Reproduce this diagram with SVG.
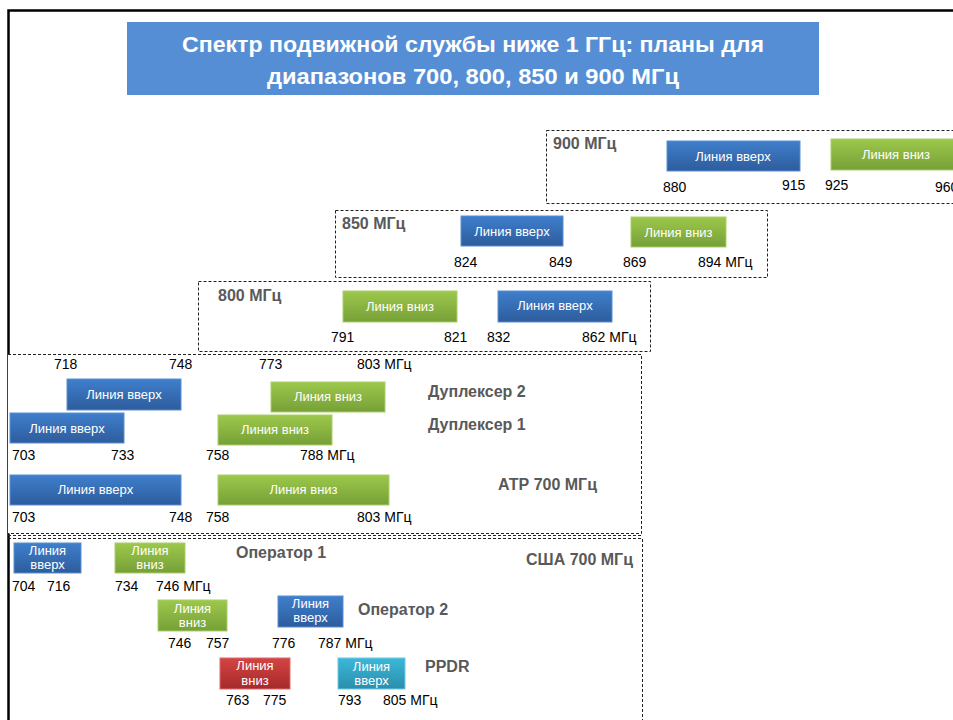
<svg xmlns="http://www.w3.org/2000/svg" width="953" height="720" viewBox="0 0 953 720">
<defs>
<linearGradient id="gb" x1="0" y1="0" x2="0" y2="1"><stop offset="0" stop-color="#3f7fcc"/><stop offset="1" stop-color="#2d5c9c"/></linearGradient>
<linearGradient id="gg" x1="0" y1="0" x2="0" y2="1"><stop offset="0" stop-color="#9dc84c"/><stop offset="1" stop-color="#76a036"/></linearGradient>
<linearGradient id="gr" x1="0" y1="0" x2="0" y2="1"><stop offset="0" stop-color="#d44444"/><stop offset="1" stop-color="#a52a2a"/></linearGradient>
<linearGradient id="gc" x1="0" y1="0" x2="0" y2="1"><stop offset="0" stop-color="#3cb8d9"/><stop offset="1" stop-color="#2a8eab"/></linearGradient>
<style>
text{font-family:"Liberation Sans",Arial,sans-serif}
.num{font-size:14px;fill:#000}
.grp{font-size:16px;font-weight:bold;fill:#595959}
.lbl{font-size:13px;fill:#fff;text-anchor:middle}
.b{fill:url(#gb);stroke:#5b8fd0;stroke-width:1}
.g{fill:url(#gg);stroke:#a9cf6a;stroke-width:1}
.r{fill:url(#gr);stroke:#e06a6a;stroke-width:1}
.c{fill:url(#gc);stroke:#6ccbe4;stroke-width:1}
.dash{fill:#fff;stroke:#222;stroke-width:1;stroke-dasharray:3,2}
.title{font-size:22px;font-weight:bold;fill:#fff;text-anchor:middle}
</style>
</defs>
<rect x="0" y="0" width="953" height="720" fill="#fff"/>
<g id="frame"><path d="M8.5,720 V10.5 H953" fill="none" stroke="#000" stroke-width="2.5"/></g>
<g id="title">
<rect x="127" y="22" width="692" height="73" fill="#558ed5"/>
<text class="title" x="473" y="52" textLength="582" lengthAdjust="spacingAndGlyphs">Спектр подвижной службы ниже 1 ГГц: планы для</text>
<text class="title" x="473" y="84" textLength="412" lengthAdjust="spacingAndGlyphs">диапазонов 700, 800, 850 и 900 МГц</text>
</g>
<g id="band900">
<rect class="dash" x="546.5" y="130.5" width="420" height="73"/>
<text class="grp" x="553" y="149">900 МГц</text>
<rect class="b" x="667" y="141" width="133" height="30"/><text class="lbl" x="733" y="161">Линия вверх</text>
<rect class="g" x="831" y="139" width="130" height="31"/><text class="lbl" x="896" y="159">Линия вниз</text>
<text class="num" x="663" y="192">880</text><text class="num" x="782" y="190">915</text><text class="num" x="825" y="190">925</text><text class="num" x="935" y="192">960</text>
</g>
<g id="band850">
<rect class="dash" x="335.5" y="210.5" width="432" height="67"/>
<text class="grp" x="342" y="229">850 МГц</text>
<rect class="b" x="461" y="216" width="102" height="30"/><text class="lbl" x="512" y="236">Линия вверх</text>
<rect class="g" x="631" y="217" width="95" height="30"/><text class="lbl" x="678.5" y="237">Линия вниз</text>
<text class="num" x="454" y="267">824</text><text class="num" x="549" y="267">849</text><text class="num" x="623" y="267">869</text><text class="num" x="698" y="267">894 МГц</text>
</g>
<g id="band800">
<rect class="dash" x="198.5" y="281.5" width="452" height="70"/>
<text class="grp" x="218" y="301">800 МГц</text>
<rect class="g" x="343" y="291" width="114" height="31"/><text class="lbl" x="400" y="311">Линия вниз</text>
<rect class="b" x="498" y="291" width="114" height="31"/><text class="lbl" x="555" y="310">Линия вверх</text>
<text class="num" x="331" y="342">791</text><text class="num" x="444" y="342">821</text><text class="num" x="487" y="342">832</text><text class="num" x="582" y="342">862 МГц</text>
</g>
<g id="apt700">
<path class="dash" d="M8,354.5 H641.5 V533.5 H8" fill="none"/>
<text class="num" x="54" y="369">718</text><text class="num" x="169" y="369">748</text><text class="num" x="259" y="369">773</text><text class="num" x="357" y="369">803 МГц</text>
<rect class="b" x="67" y="379" width="114" height="31"/><text class="lbl" x="124" y="399">Линия вверх</text>
<rect class="g" x="271" y="382" width="114" height="30"/><text class="lbl" x="328" y="401">Линия вниз</text>
<text class="grp" x="428" y="397">Дуплексер 2</text>
<rect class="b" x="10" y="413" width="114" height="30"/><text class="lbl" x="67" y="433">Линия вверх</text>
<rect class="g" x="218" y="415" width="114" height="30"/><text class="lbl" x="275" y="434">Линия вниз</text>
<text class="grp" x="428" y="430">Дуплексер 1</text>
<text class="num" x="12" y="460">703</text><text class="num" x="111" y="460">733</text><text class="num" x="206" y="460">758</text><text class="num" x="300" y="460">788 МГц</text>
<rect class="b" x="10" y="475" width="171" height="30"/><text class="lbl" x="95.5" y="494">Линия вверх</text>
<rect class="g" x="218" y="475" width="171" height="30"/><text class="lbl" x="303.5" y="494">Линия вниз</text>
<text class="grp" x="498" y="490">АТР 700 МГц</text>
<text class="num" x="12" y="522">703</text><text class="num" x="169" y="522">748</text><text class="num" x="206" y="522">758</text><text class="num" x="357" y="522">803 МГц</text>
</g>
<g id="usa700">
<path class="dash" d="M8,535.5 H642.5 M8,538.5 H642.5 V720" fill="none"/>
<text class="grp" x="526" y="565">США 700 МГц</text>
<rect class="b" x="14" y="543" width="67" height="30"/><text class="lbl" x="47.5" y="555">Линия</text><text class="lbl" x="47.5" y="569">вверх</text>
<rect class="g" x="115" y="543" width="70" height="30"/><text class="lbl" x="150" y="555">Линия</text><text class="lbl" x="150" y="569">вниз</text>
<text class="grp" x="236" y="558">Оператор 1</text>
<text class="num" x="12" y="591">704</text><text class="num" x="47" y="591">716</text><text class="num" x="115" y="591">734</text><text class="num" x="156" y="591">746 МГц</text>
<rect class="g" x="158" y="600" width="69" height="31"/><text class="lbl" x="192.5" y="613">Линия</text><text class="lbl" x="192.5" y="627">вниз</text>
<rect class="b" x="278" y="596" width="65" height="31"/><text class="lbl" x="310.5" y="608">Линия</text><text class="lbl" x="310.5" y="622">вверх</text>
<text class="grp" x="358" y="615">Оператор 2</text>
<text class="num" x="168" y="648">746</text><text class="num" x="206" y="648">757</text><text class="num" x="272" y="648">776</text><text class="num" x="318" y="648">787 МГц</text>
<rect class="r" x="220" y="658" width="70" height="31"/><text class="lbl" x="255" y="670">Линия</text><text class="lbl" x="255" y="685">вниз</text>
<rect class="c" x="338" y="658" width="67" height="31"/><text class="lbl" x="371.5" y="671">Линия</text><text class="lbl" x="371.5" y="685">вверх</text>
<text class="grp" x="425" y="672">PPDR</text>
<text class="num" x="226" y="705">763</text><text class="num" x="263" y="705">775</text><text class="num" x="338" y="705">793</text><text class="num" x="383" y="705">805 МГц</text>
</g>
</svg>
